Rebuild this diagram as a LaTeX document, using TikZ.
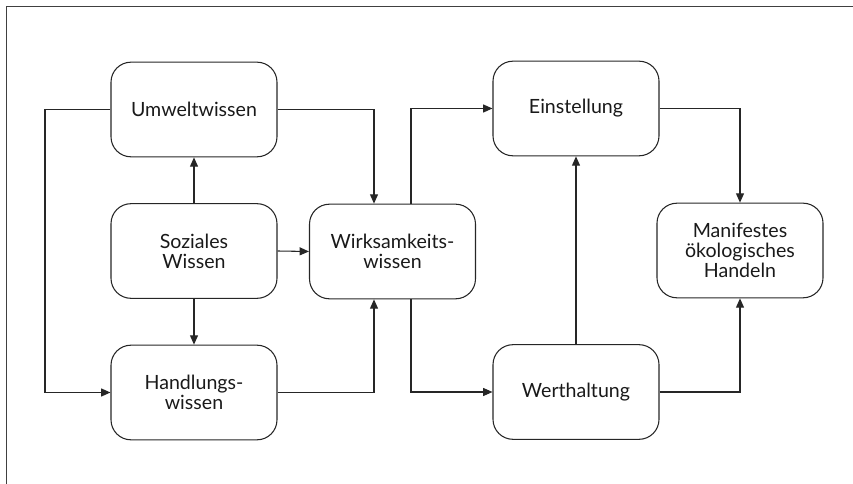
\documentclass[tikz,border=0pt]{standalone}
\usepackage{fontspec}
\setmainfont{Lato}
\usetikzlibrary{arrows.meta,calc}
\begin{document}
\begin{tikzpicture}[x=0.75pt,y=-0.75pt,
  box/.style={draw=black!85,line width=0.8pt,rounded corners=15pt,
    minimum width=124.5pt,minimum height=71pt,align=center,
    font=\fontsize{14.7}{15}\selectfont,text=black!90},
  link/.style={draw=black!85,line width=0.8pt},
  arr/.style={link,-{Triangle[length=7pt,width=6pt]}},
  frame/.style={draw=black!75,line width=1pt}]
\useasboundingbox (0,0) rectangle (853,484);
% frame lines at top and left
\draw[frame] (853,6.5) -- (6.5,6.5) -- (6.5,484);

% knowledge boxes
\node[box] (U) at (194,109.5) {Umweltwissen};
\node[box] (S) at (194,251) {Soziales\\Wissen};
\node[box] (H) at (194,392.5) {Handlungs-\\wissen};
\node[box] (W) at (392.5,251.5) {Wirksamkeits-\\wissen};
\node[box] (E) at (576,108.5) {Einstellung};
\node[box] (V) at (576,392) {Werthaltung};
\node[box] (M) at (740,250.5) {Manifestes\\ökologisches\\Handeln};

% routing points
\coordinate (L) at (45,0);
\coordinate (Win) at ($(W.north)+(-18.5,0)$);
\coordinate (Wout) at ($(W.north)+(18.5,0)$);
\coordinate (Win2) at ($(W.south)+(-18.5,0)$);
\coordinate (Wout2) at ($(W.south)+(18.5,0)$);

% connectors
\draw[arr] (U.west) -- (U.west -| L) |- (H.west);
\draw[arr] (U.east) -| (Win);
\draw[arr] (S.north) -- (U.south);
\draw[arr] (S.south) -- (H.north);
\draw[arr] (S.east) -- (W.west);
\draw[arr] (H.east) -| (Win2);
\draw[arr] (Wout) |- (E.west);
\draw[arr] (Wout2) |- (V.west);
\draw[arr] (V.north) -- (E.south);
\draw[arr] (E.east) -| (M.north);
\draw[arr] (V.east) -| (M.south);
\end{tikzpicture}
\end{document}
